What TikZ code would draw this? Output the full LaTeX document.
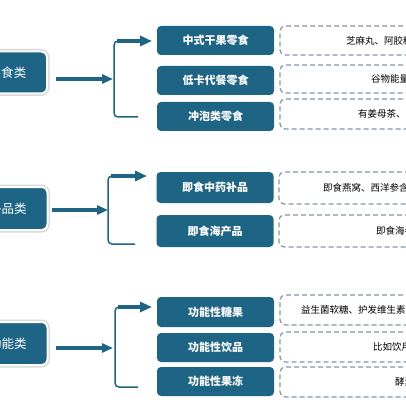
\documentclass[tikz,border=0pt]{standalone}
\usepackage{fontspec}
\newfontfamily\cjk{Noto Sans CJK SC}
\usetikzlibrary{arrows.meta}
\definecolor{teal1}{HTML}{1E6585}
\definecolor{dashc}{HTML}{8797A8}
\begin{document}
\begin{tikzpicture}[x=1pt,y=-1pt,
 catbox/.style={fill=teal1, draw=white, line width=2pt, rounded corners=6pt,
   preaction={draw=black!15,line width=5pt}, text=white,
   font=\cjk\fontsize{12.5}{14}\selectfont, minimum width=79pt, minimum height=42pt, inner sep=0pt},
 subbox/.style={fill=teal1, rounded corners=4pt, text=white,
   font=\cjk\bfseries\fontsize{11}{13}\selectfont, minimum width=117pt, inner sep=0pt},
 descbox/.style={draw=dashc, dash pattern=on 5pt off 3pt, line width=1.2pt,
   rounded corners=5pt, minimum width=240pt, inner sep=0pt},
 desctext/.style={font=\cjk\fontsize{9.5}{11}\selectfont, text=black, anchor=west, inner sep=0pt},
 bigarrow/.style={draw=teal1, line width=3.5pt, -{Triangle[length=12pt,width=10pt]}},
 midarrow/.style={draw=teal1, line width=3.5pt, -{Triangle[length=11pt,width=9pt]}},
 bracel/.style={draw=teal1, line width=1.5pt, rounded corners=4pt}
]
\fill[white] (0,0) rectangle (406,406);
\useasboundingbox (0,0) rectangle (406,406);

% ---------- group 1 ----------
\node[catbox] (L1) at (7.5,72.5) {零食类};
\node[subbox, minimum height=29pt] (B1) at (215.5,40.5) {中式干果零食};
\node[subbox, minimum height=29pt] (B2) at (215.5,80.5) {低卡代餐零食};
\node[subbox, minimum height=29pt] (B3) at (215.5,116.5) {冲泡类零食};
\node[descbox, minimum height=29pt] (D1) at (400,40.5) {};
\node[descbox, minimum height=28pt] (D2) at (400,79) {};
\node[descbox, minimum height=30pt] (D3) at (400,114) {};
\node[desctext] (T1) at (346,40.5) {芝麻丸、阿胶糕};
\node[desctext] (T2) at (371,79) {谷物能量棒};
\node[desctext] (T3) at (358,114) {有姜母茶、};
\coordinate (a1) at (56,79);
\coordinate (m1) at (113,79);
\coordinate (t1) at (117,41);
\coordinate (tt1) at (152,41);
\coordinate (bb1) at (138,117);
\draw[bracel] (120,41) -- (114,41) -- (114,117) -- (bb1);
\draw[bigarrow] (t1) -- (tt1);
\draw[midarrow] (a1) -- (m1);

% ---------- group 2 ----------
\node[catbox, minimum height=43pt] (L2) at (8,208.5) {补品类};
\node[subbox, minimum height=31pt] (B4) at (215,187.5) {即食中药补品};
\node[subbox, minimum height=32pt] (B5) at (215,231) {即食海产品};
\node[descbox, minimum height=32pt] (D4) at (399,188) {};
\node[descbox, minimum height=32pt] (D5) at (399,231) {};
\node[desctext] (T4) at (323,188) {即食燕窝、西洋参含};
\node[desctext] (T5) at (376,231) {即食海参};
\coordinate (a2) at (52,210);
\coordinate (m2) at (108,210);
\coordinate (t2) at (111,176);
\coordinate (tt2) at (147,176);
\coordinate (bb2) at (135,244);
\draw[bracel] (114,176) -- (108,176) -- (108,244) -- (bb2);
\draw[bigarrow] (t2) -- (tt2);
\draw[midarrow] (a2) -- (m2);

% ---------- group 3 ----------
\node[catbox, minimum height=43pt] (L3) at (8,343.5) {功能类};
\node[subbox, minimum height=30pt] (B6) at (215.5,312) {功能性糖果};
\node[subbox, minimum height=29pt] (B7) at (215.5,347.5) {功能性饮品};
\node[subbox, minimum height=29pt] (B8) at (215.5,381.5) {功能性果冻};
\node[descbox, minimum height=30pt] (D6) at (400,310) {};
\node[descbox, minimum height=30pt] (D7) at (400,347) {};
\node[descbox, minimum height=30pt] (D8) at (400,382) {};
\node[desctext] (T6) at (301,310) {益生菌软糖、护发维生素};
\node[desctext] (T7) at (373,347) {比如饮用};
\node[desctext] (T8) at (395,382) {酵素};
\coordinate (a3) at (56,348);
\coordinate (m3) at (113,348);
\coordinate (t3) at (118,307);
\coordinate (tt3) at (152,307);
\coordinate (bb3) at (138,387);
\draw[bracel] (121,307) -- (115,307) -- (115,387) -- (bb3);
\draw[bigarrow] (t3) -- (tt3);
\draw[midarrow] (a3) -- (m3);
\end{tikzpicture}
\end{document}
